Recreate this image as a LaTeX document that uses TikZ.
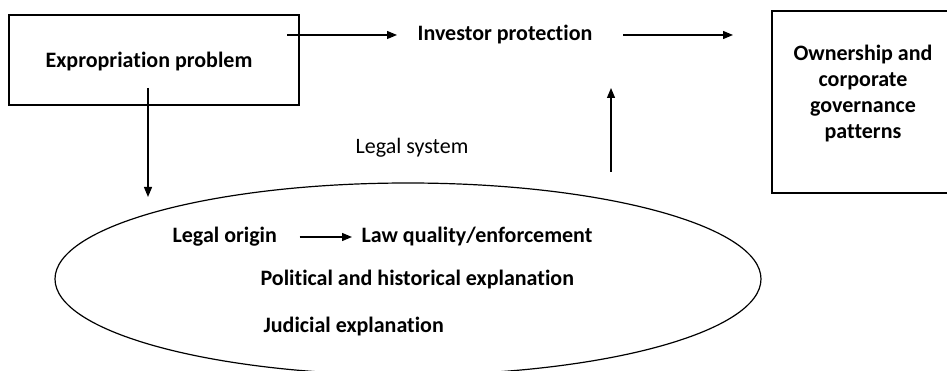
\documentclass[tikz,border=0pt]{standalone}
\usepackage{fontspec}
\setmainfont{Carlito}[Ligatures=CommonOff]
\usetikzlibrary{arrows.meta,shapes.geometric}
\begin{document}
\begin{tikzpicture}[x=1pt,y=-1pt,
  line width=1.2pt,
  arr/.style={-{Triangle[length=10pt,width=8pt]}},
  boxtext/.style={font=\bfseries\fontsize{22}{26}\selectfont},
  plain/.style={font=\fontsize{22}{26}\selectfont},
  tbox/.style={draw, line width=1.2pt, boxtext, align=center, inner sep=0pt}]
\useasboundingbox (0,0) rectangle (947,371);
\node[tbox, minimum width=290pt, minimum height=90pt] (exp) at (154,60) {};
\node[boxtext, inner sep=0pt] (expt) at (149,62) {Expropriation problem};
\node[tbox, minimum width=182pt, minimum height=182pt] (own) at (863,102) {};
\node[boxtext, align=center, inner sep=0pt] (ownt) at (863,94) {Ownership and\\corporate\\governance\\patterns};
\node[boxtext, inner sep=0pt] (inv) at (505,35) {Investor protection};
\node[plain, inner sep=0pt] (lsys) at (412,148) {Legal system};
\node[draw, ellipse, line width=1.2pt, minimum width=706pt, minimum height=192pt, inner sep=0pt] (ell) at (408,279) {};
\node[boxtext, anchor=west, inner sep=0pt] (lo) at (172,237) {Legal origin};
\node[boxtext, anchor=west, inner sep=0pt] (lq) at (361,237) {Law quality/enforcement};
\node[boxtext, anchor=west, inner sep=0pt] (pol) at (260,280) {Political and historical explanation};
\node[boxtext, anchor=west, inner sep=0pt] (jud) at (263,327) {Judicial explanation};
\coordinate (a1s) at (287,35);
\coordinate (a1e) at (397,35);
\coordinate (a2s) at (623,35);
\coordinate (a2e) at (733,35);
\coordinate (dS) at (148,88);
\coordinate (dE) at (148,197);
\coordinate (uS) at (611,172);
\coordinate (uE) at (611,88);
\draw[arr] (a1s) -- (a1e);
\draw[arr] (a2s) -- (a2e);
\draw[arr] (dS) -- (dE);
\draw[arr] (uS) -- (uE);
\draw[arr, shorten <=22pt, shorten >=9pt] (lo.east) -- (lq.west);
\end{tikzpicture}
\end{document}
